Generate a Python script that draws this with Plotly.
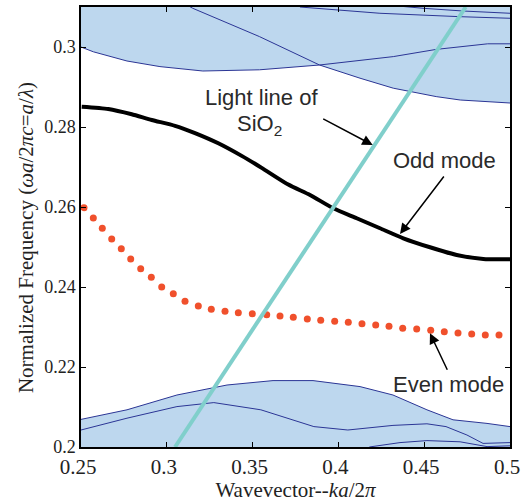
import plotly.graph_objects as go

# ---------------- data ----------------
x_range = [0.25, 0.5]
y_range = [0.2, 0.31]
x_ticks = [0.25, 0.3, 0.35, 0.4, 0.45, 0.5]
x_ticklabels = ["0.25", "0.3", "0.35", "0.4", "0.45", "0.5"]
y_ticks = [0.2, 0.22, 0.24, 0.26, 0.28, 0.3]
y_ticklabels = ["0.2", "0.22", "0.24", "0.26", "0.28", "0.3"]

# upper band (air / cladding modes)
band_a_k = [0.25, 0.2572, 0.2768, 0.296, 0.321, 0.354, 0.389, 0.432, 0.457, 0.487, 0.5]
band_a_f = [0.3, 0.2988, 0.2965, 0.2951, 0.294, 0.2943, 0.2955, 0.2976, 0.2994, 0.3008, 0.3008]
band_b_k = [0.30, 0.315, 0.354, 0.389, 0.4126, 0.432, 0.457, 0.471, 0.5]
band_b_f = [0.3135, 0.3097, 0.3026, 0.2955, 0.2922, 0.2897, 0.2876, 0.28675, 0.286]
band_c_k = [0.436, 0.4493, 0.4726, 0.5]
band_c_f = [0.3102, 0.30968, 0.309, 0.30843]
band_d_k = [0.3776, 0.3992, 0.4242, 0.4709, 0.5]
band_d_f = [0.31, 0.30925, 0.30843, 0.30758, 0.30718]

# lower band
band_e_k = [0.25, 0.2768, 0.3059, 0.3351, 0.3619, 0.3852, 0.4126, 0.4318, 0.4516, 0.4668, 0.4866, 0.5]
band_e_f = [0.2069, 0.2093, 0.213, 0.2155, 0.2166, 0.2166, 0.2151, 0.213, 0.2093, 0.2068, 0.2059, 0.2051]
band_f_k = [0.25, 0.2768, 0.3059, 0.3274, 0.3548, 0.3857, 0.4055, 0.4318, 0.4516, 0.4627, 0.4749, 0.4843, 0.5]
band_f_f = [0.20425, 0.2072, 0.2101, 0.2111, 0.2093, 0.2051, 0.20425, 0.2054, 0.2058, 0.2051, 0.203, 0.2009, 0.2011]
band_g_k = [0.418, 0.4359, 0.4516, 0.4709, 0.4866, 0.5]
band_g_f = [0.2, 0.2011, 0.2016, 0.2013, 0.2001, 0.2003]

# odd mode
odd_k = [0.2504, 0.2659, 0.27955, 0.2912, 0.30478, 0.31643, 0.33001, 0.34365, 0.3553, 0.3708,
         0.38345, 0.39703, 0.41066, 0.42424, 0.43782, 0.45338, 0.46894, 0.48444, 0.5]
odd_f = [0.28508, 0.2845, 0.28318, 0.28175, 0.2803, 0.27848, 0.27593, 0.27278, 0.26978, 0.2656,
         0.263, 0.25968, 0.25718, 0.25468, 0.25218, 0.24993, 0.248, 0.247, 0.24693]

# even mode (dots)
even_k = [0.25175, 0.25717, 0.26241, 0.26789, 0.27348, 0.27896, 0.28479, 0.29097, 0.29703, 0.30379,
          0.31061, 0.31836, 0.32593, 0.33392, 0.34167, 0.34983, 0.35822, 0.36597, 0.37372, 0.38188,
          0.38969, 0.39784, 0.40577, 0.41375, 0.42174, 0.42949, 0.43747, 0.44563, 0.45379, 0.46171,
          0.4697, 0.47768, 0.4856, 0.49359]
even_f = [0.25983, 0.25725, 0.25468, 0.252, 0.24958, 0.247, 0.24458, 0.24243, 0.24, 0.23833,
          0.23643, 0.23525, 0.23443, 0.23393, 0.23358, 0.23333, 0.23308, 0.23275, 0.23243, 0.232,
          0.23168, 0.23145, 0.23118, 0.23083, 0.2305, 0.2302, 0.2297, 0.2295, 0.2292, 0.2288,
          0.2285, 0.22825, 0.228, 0.228]

# light line of SiO2
light_k = [0.3048, 0.4742]
light_f = [0.2, 0.31]

# ---------------- style ----------------
FILL = "#bdd7ee"
BANDLINE = "#2b3595"
SERIF = "Liberation Serif, Times New Roman, serif"
SANS = "Liberation Sans, Arial, sans-serif"

fig = go.Figure()

top_cap = y_range[1] + 0.01
for bk, bf in [(band_a_k, band_a_f), (band_b_k, band_b_f)]:
    fig.add_trace(go.Scatter(
        x=bk + [bk[-1], bk[0]], y=bf + [top_cap, top_cap],
        fill="toself", fillcolor=FILL, mode="lines", line=dict(width=0),
        hoverinfo="skip", showlegend=False))

fig.add_trace(go.Scatter(x=band_e_k, y=band_e_f, fill="tozeroy", fillcolor=FILL,
                         mode="lines", line=dict(width=0), hoverinfo="skip", showlegend=False))

for bk, bf in [(band_a_k, band_a_f), (band_b_k, band_b_f), (band_c_k, band_c_f),
               (band_d_k, band_d_f), (band_e_k, band_e_f), (band_f_k, band_f_f),
               (band_g_k, band_g_f)]:
    fig.add_trace(go.Scatter(x=bk, y=bf, mode="lines", line=dict(color=BANDLINE, width=1),
                             showlegend=False))

fig.add_trace(go.Scatter(x=odd_k, y=odd_f, mode="lines",
                         line=dict(color="black", width=4, shape="spline", smoothing=0.6),
                         showlegend=False))
fig.add_trace(go.Scatter(x=even_k, y=even_f, mode="markers",
                         marker=dict(color="#f0502c", size=7, line=dict(width=0)),
                         showlegend=False))
fig.add_trace(go.Scatter(x=light_k, y=light_f, mode="lines", line=dict(color="#80cfcb", width=4),
                         showlegend=False))

TXT = "#2a2a2a"
anns = [
    dict(x=0.3549, y=0.2875, text="Light line of", showarrow=False,
         font=dict(family=SANS, size=22, color=TXT)),
    dict(x=0.3543, y=0.2805, text="SiO<sub>2</sub>", showarrow=False,
         font=dict(family=SANS, size=22, color=TXT)),
    dict(x=0.4621, y=0.27175, text="Odd mode", showarrow=False,
         font=dict(family=SANS, size=22, color=TXT)),
    dict(x=0.4639, y=0.21575, text="Even mode", showarrow=False,
         font=dict(family=SANS, size=22, color=TXT)),
    dict(xref="paper", yref="paper", x=-0.128, y=0.475, xanchor="center", yanchor="middle",
         textangle=-90, showarrow=False,
         text="Normalized Frequency (<i>ωa</i>/2<i>πc</i>=<i>a</i>/<i>λ</i>)",
         font=dict(family=SERIF, size=21, color="#222")),
]
arrow_common = dict(text="", showarrow=True, arrowhead=2, arrowsize=1.4, arrowwidth=1.5,
                    arrowcolor="black")
anns += [
    dict(x=0.42, y=0.2755, ax=-51, ay=-27, **arrow_common),
    dict(x=0.4359, y=0.25325, ax=45, ay=-59, **arrow_common),
    dict(x=0.45338, y=0.22843, ax=18, ay=38, **arrow_common),
]

fig.update_layout(
    width=521, height=502,
    margin=dict(l=81, r=11, t=7, b=55, autoexpand=False),
    paper_bgcolor="white", plot_bgcolor="white",
    annotations=anns,
    xaxis=dict(range=[x_range[0] - 1e-6, x_range[1] + 1e-6], tickvals=x_ticks, ticktext=x_ticklabels,
               showgrid=False, zeroline=False, showline=True, linecolor="black", linewidth=1.5,
               mirror="ticks", ticks="inside", ticklen=5, tickcolor="black", tickwidth=1,
               ticklabeloverflow="allow", automargin=False, ticklabelshift=-3,
               tickfont=dict(family=SERIF, size=21, color="#222"),
               title=dict(text="Wavevector--<i>ka</i>/2<i>π</i>", standoff=6,
                          font=dict(family=SERIF, size=21, color="#222"))),
    yaxis=dict(range=y_range, tickvals=y_ticks, ticktext=y_ticklabels,
               showgrid=False, zeroline=False, showline=True, linecolor="black", linewidth=1.5,
               mirror="ticks", ticks="inside", ticklen=5, tickcolor="black", tickwidth=1,
               ticklabeloverflow="allow", automargin=False,
               tickfont=dict(family=SERIF, size=18, color="#222")),
)

fig.write_html("out.html")
